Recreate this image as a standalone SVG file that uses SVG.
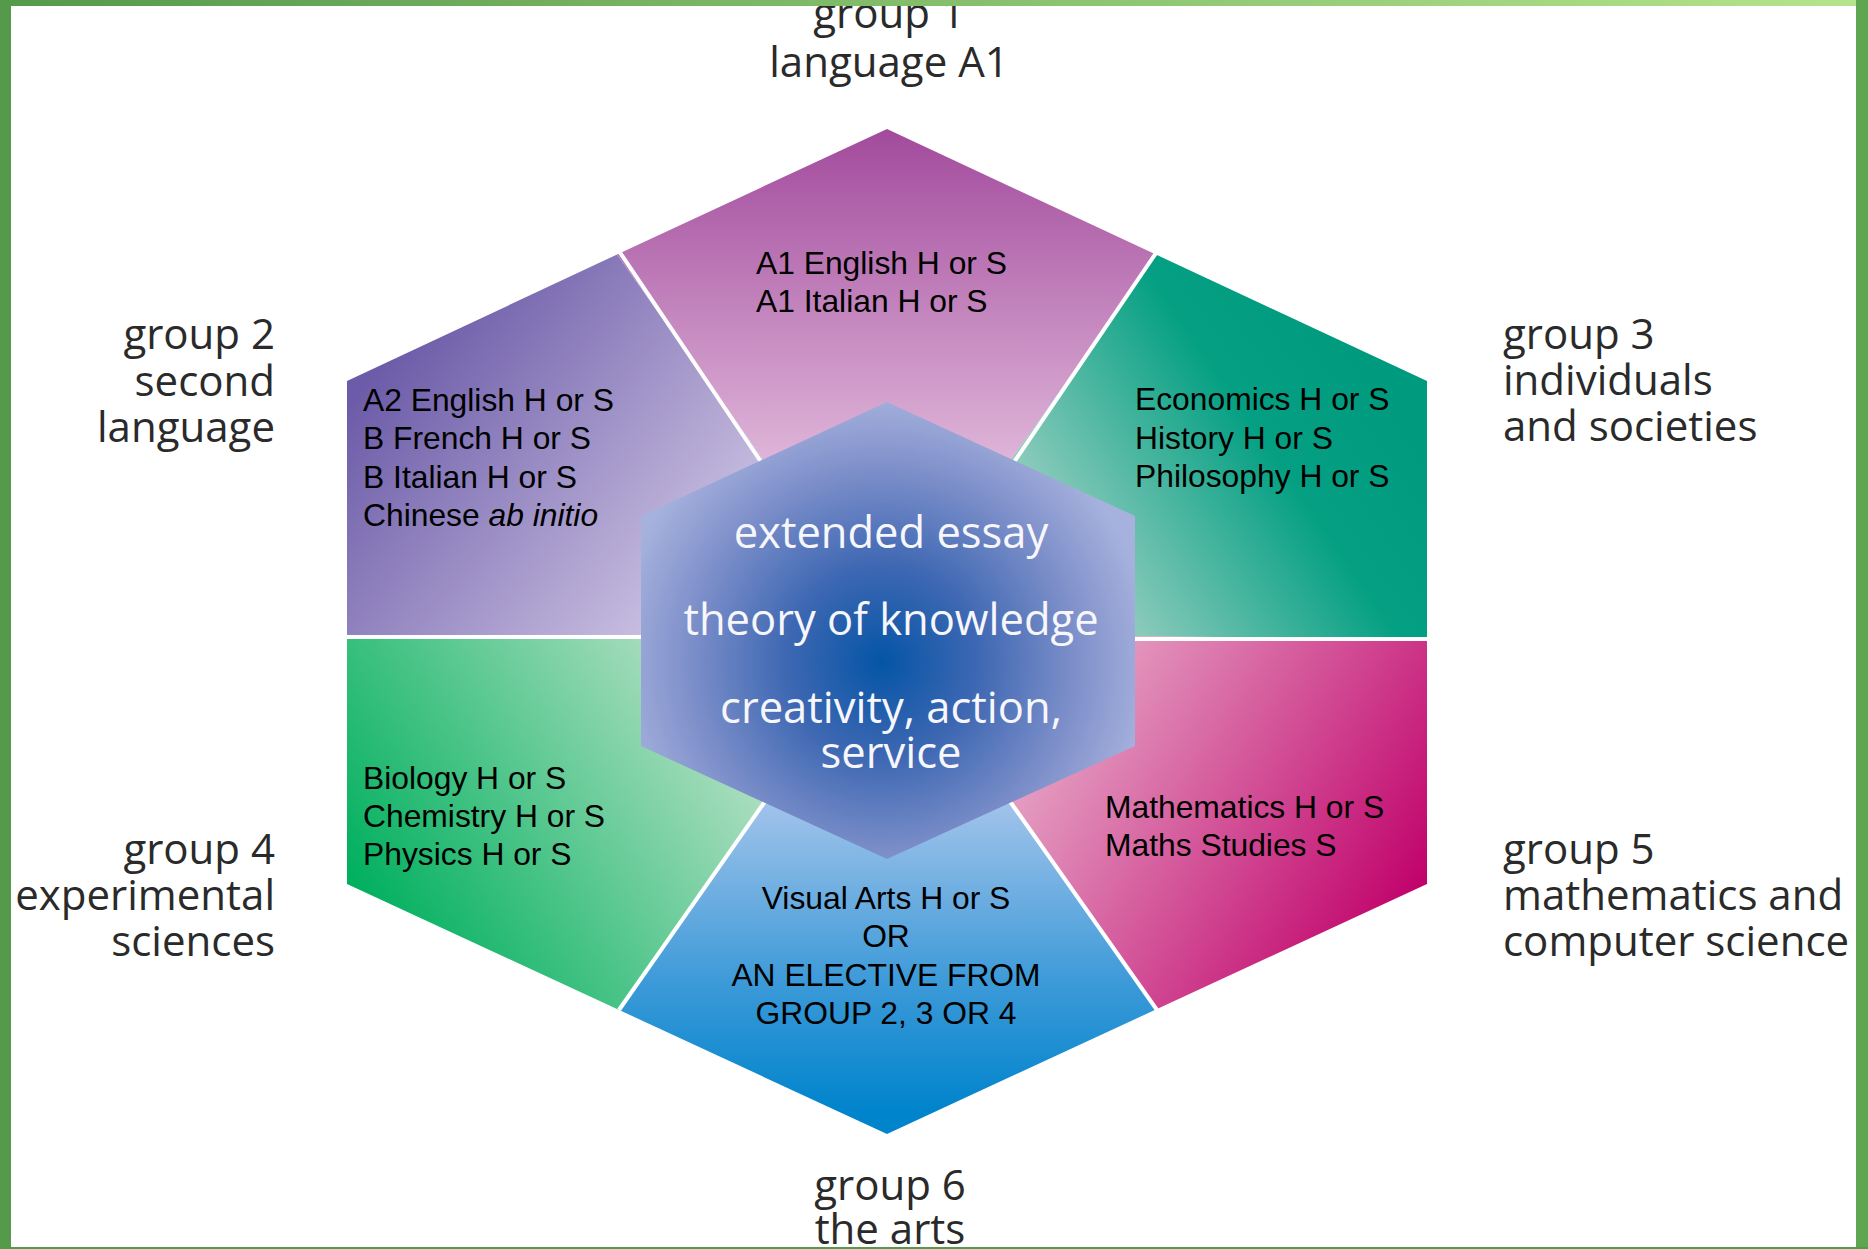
<svg xmlns="http://www.w3.org/2000/svg" width="1868" height="1249" viewBox="0 0 1868 1249">
  <style>
    .grp { font-family: "Open Sans", "DejaVu Sans", sans-serif; font-size: 42px; fill: #2a2a2a; }
    .sub { font-family: "Liberation Sans", Arial, sans-serif; font-size: 31.8px; fill: #000; }
    .core { font-family: "Open Sans", "DejaVu Sans", sans-serif; font-size: 43.5px; fill: #f6f6fb; text-anchor: middle; }
    .div { stroke: #ffffff; stroke-width: 4; fill: none; }
  </style>
  <defs>
    <linearGradient id="gTop" gradientUnits="userSpaceOnUse" x1="887" y1="129" x2="887" y2="470">
      <stop offset="0" stop-color="#a24a9c"/>
      <stop offset="1" stop-color="#e0b8da"/>
    </linearGradient>
    <linearGradient id="gUL" gradientUnits="userSpaceOnUse" x1="360" y1="390" x2="650" y2="630">
      <stop offset="0" stop-color="#6c5ba8"/>
      <stop offset="1" stop-color="#c8bee0"/>
    </linearGradient>
    <linearGradient id="gUR" gradientUnits="userSpaceOnUse" x1="1400" y1="400" x2="1080" y2="620">
      <stop offset="0" stop-color="#009a7e"/>
      <stop offset="0.35" stop-color="#05a083"/>
      <stop offset="1" stop-color="#a4d2c6"/>
    </linearGradient>
    <linearGradient id="gLR" gradientUnits="userSpaceOnUse" x1="1060" y1="680" x2="1420" y2="900">
      <stop offset="0" stop-color="#e6a6c6"/>
      <stop offset="1" stop-color="#c0006a"/>
    </linearGradient>
    <linearGradient id="gBot" gradientUnits="userSpaceOnUse" x1="887" y1="790" x2="887" y2="1110">
      <stop offset="0" stop-color="#a8c6ec"/>
      <stop offset="0.6" stop-color="#3d9ad8"/>
      <stop offset="1" stop-color="#0084cc"/>
    </linearGradient>
    <linearGradient id="gLL" gradientUnits="userSpaceOnUse" x1="700" y1="660" x2="350" y2="880">
      <stop offset="0" stop-color="#b4e0c4"/>
      <stop offset="1" stop-color="#00b05e"/>
    </linearGradient>
    <radialGradient id="gCore" gradientUnits="userSpaceOnUse" cx="882" cy="662" r="270">
      <stop offset="0" stop-color="#0455a6"/>
      <stop offset="0.35" stop-color="#3d67b2"/>
      <stop offset="0.75" stop-color="#8393cc"/>
      <stop offset="1" stop-color="#a6b2dd"/>
    </radialGradient>
    <linearGradient id="gFrameTop" x1="0" y1="0" x2="1" y2="0">
      <stop offset="0" stop-color="#55994b"/>
      <stop offset="1" stop-color="#b5e48c"/>
    </linearGradient>
  </defs>

  <rect x="0" y="0" width="1868" height="1249" fill="#ffffff"/>

  <g id="group1">
    <polygon points="617,254.5 887,129 1157,255 887,634" fill="url(#gTop)"/>
    <text class="sub"><tspan x="756" y="274">A1 English H or S</tspan><tspan x="756" y="312">A1 Italian H or S</tspan></text>
    <text class="grp" text-anchor="middle"><tspan x="889" y="28">group 1</tspan><tspan x="889" y="77">language A1</tspan></text>
  </g>

  <g id="group2">
    <polygon points="347,638 347,381 617,254.5 887,634" fill="url(#gUL)"/>
    <text class="sub"><tspan x="363" y="411">A2 English H or S</tspan><tspan x="363" y="449">B French H or S</tspan><tspan x="363" y="487.5">B Italian H or S</tspan><tspan x="363" y="526">Chinese <tspan font-style="italic">ab initio</tspan></tspan></text>
    <text class="grp" text-anchor="end"><tspan x="275" y="349">group 2</tspan><tspan x="275" y="396">second</tspan><tspan x="275" y="442">language</tspan></text>
  </g>

  <g id="group3">
    <polygon points="1157,255 1427,381 1427,639 887,634" fill="url(#gUR)"/>
    <text class="sub"><tspan x="1135" y="410">Economics H or S</tspan><tspan x="1135" y="448.5">History H or S</tspan><tspan x="1135" y="487">Philosophy H or S</tspan></text>
    <text class="grp"><tspan x="1503" y="349">group 3</tspan><tspan x="1503" y="395">individuals</tspan><tspan x="1503" y="441">and societies</tspan></text>
  </g>

  <g id="group5">
    <polygon points="1427,639 1427,884 1157,1009 887,634" fill="url(#gLR)"/>
    <text class="sub"><tspan x="1105" y="818">Mathematics H or S</tspan><tspan x="1105" y="856">Maths Studies S</tspan></text>
    <text class="grp"><tspan x="1503" y="864">group 5</tspan><tspan x="1503" y="910">mathematics and</tspan><tspan x="1503" y="956">computer science</tspan></text>
  </g>

  <g id="group6">
    <polygon points="1157,1009 887,1134 617,1009 887,634" fill="url(#gBot)"/>
    <text class="sub" text-anchor="middle"><tspan x="886" y="909">Visual Arts H or S</tspan><tspan x="886" y="947">OR</tspan><tspan x="886" y="986">AN ELECTIVE FROM</tspan><tspan x="886" y="1024">GROUP 2, 3 OR 4</tspan></text>
    <text class="grp" text-anchor="middle"><tspan x="890" y="1200">group 6</tspan><tspan x="890" y="1244">the arts</tspan></text>
  </g>

  <g id="group4">
    <polygon points="617,1009 347,884 347,638 887,634" fill="url(#gLL)"/>
    <text class="sub"><tspan x="363" y="788.5">Biology H or S</tspan><tspan x="363" y="826.5">Chemistry H or S</tspan><tspan x="363" y="865">Physics H or S</tspan></text>
    <text class="grp" text-anchor="end"><tspan x="275" y="864">group 4</tspan><tspan x="275" y="910">experimental</tspan><tspan x="275" y="956">sciences</tspan></text>
  </g>

  <g id="connectors">
    <line class="div" x1="619" y1="251" x2="780" y2="490"/>
    <line class="div" x1="1156" y1="253" x2="995" y2="490"/>
    <line class="div" x1="347" y1="637" x2="700" y2="637"/>
    <line class="div" x1="1070" y1="639" x2="1427" y2="639"/>
    <line class="div" x1="619" y1="1010" x2="780" y2="780"/>
    <line class="div" x1="1157" y1="1010" x2="995" y2="780"/>
  </g>

  <g id="core">
    <polygon points="887,402 1135,516 1135,746 887,859 641,746 641,516" fill="url(#gCore)"/>
    <text class="core" x="891" y="548">extended essay</text>
    <text class="core" x="891" y="635">theory of knowledge</text>
    <text class="core" x="891" y="723">creativity, action,</text>
    <text class="core" x="891" y="768">service</text>
  </g>

  <g id="frame">
    <rect x="0" y="0" width="1868" height="6" fill="url(#gFrameTop)"/>
    <rect x="0" y="0" width="11" height="1249" fill="#55994b"/>
    <rect x="1856" y="0" width="12" height="1249" fill="#5fa650"/>
    <rect x="0" y="1247" width="1868" height="2" fill="#55994b"/>
  </g>
</svg>
